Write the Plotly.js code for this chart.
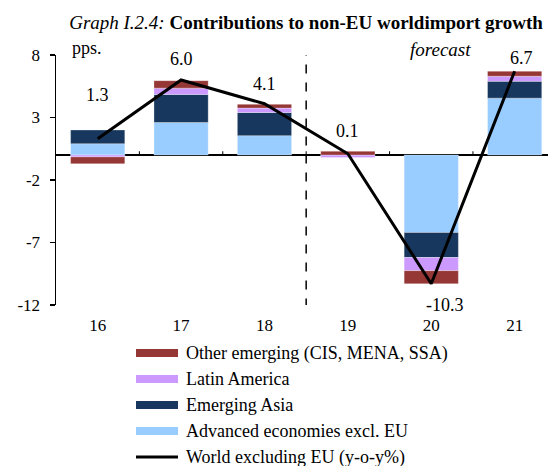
<!DOCTYPE html>
<html>
<head>
<meta charset="utf-8">
<script src="https://cdn.plot.ly/plotly-3.0.1.min.js"></script>
<style>html,body{margin:0;padding:0;background:#fff;}#chart{width:548px;height:466px;}</style>
</head>
<body>
<div id="chart"></div>
<script>
const years = ['16', '17', '18', '19', '20', '21'];
const advanced = [0.9, 2.6, 1.55, 0.0, -6.2, 4.55];
const emergingAsia = [1.1, 2.25, 1.85, 0.0, -2.0, 1.35];
const latinAmerica = [-0.15, 0.5, 0.35, -0.2, -1.05, 0.4];
const otherEmerging = [-0.55, 0.6, 0.3, 0.3, -1.05, 0.4];
const world = [1.3, 6.0, 4.1, 0.1, -10.3, 6.7];
const worldLabels = ['1.3', '6.0', '4.1', '0.1', '-10.3', '6.7'];
const yTicks = [8, 3, -2, -7, -12];

const names = ['Other emerging (CIS, MENA, SSA)', 'Latin America', 'Emerging Asia', 'Advanced economies excl. EU', 'World excluding EU (y-o-y%)'];
const colors = ['#953735', '#CC99FF', '#17375E', '#99CCFF', '#000000'];

const FONT = 'Liberation Serif, Times New Roman, serif';

// plot-area geometry in pixels (for placing the hand-made legend)
const PL = 56, PR = 548, PT = 55, PB = 305;
const px2x = p => (p - PL) / (PR - PL);
const px2y = p => (PB - p) / (PB - PT);

function bar(vals, idx) {
  return {
    type: 'bar', x: years, y: vals, name: names[idx], showlegend: false,
    marker: {color: colors[idx], line: {color: 'rgba(255,255,255,0.6)', width: 0.5}},
    width: 0.65, hoverinfo: 'skip'
  };
}

const traces = [
  bar(advanced, 3), bar(emergingAsia, 2), bar(latinAmerica, 1), bar(otherEmerging, 0),
  {type: 'scatter', mode: 'lines', x: years, y: world, name: names[4], showlegend: false,
   line: {color: '#000', width: 3}, hoverinfo: 'skip'}
];

// label offsets (style only)
const lblShift = [[0, 44], [0, 21], [0, 20], [0, 23], [14, -21], [7, 13]];
const annotations = years.map((c, i) => ({
  x: i, y: world[i], xref: 'x', yref: 'y', text: worldLabels[i], showarrow: false,
  xshift: lblShift[i][0], yshift: lblShift[i][1], yanchor: 'middle', xanchor: 'center',
  font: {family: FONT, size: 18, color: '#000'}
}));
annotations.push({xref: 'paper', yref: 'paper', x: px2x(70), y: px2y(48), xanchor: 'left', yanchor: 'middle',
  text: 'pps.', showarrow: false, font: {family: FONT, size: 18, color: '#000'}});
annotations.push({xref: 'paper', yref: 'paper', x: px2x(440), y: px2y(50), xanchor: 'center', yanchor: 'middle',
  text: '<i>forecast</i>', showarrow: false, font: {family: FONT, size: 19, color: '#000'}});

const shapes = [];
for (let i = 0; i < years.length - 1; i++) {
  shapes.push({type: 'line', xref: 'x', yref: 'y', x0: i + 0.5, x1: i + 0.5, y0: 0, y1: 0.3,
    line: {color: '#000', width: 1}});
}
shapes.push({type: 'line', xref: 'x', yref: 'y', x0: 2.5, x1: 2.5, y0: -12.2, y1: 8,
  line: {color: '#000', width: 1.5, dash: 'dash'}});

// legend (drawn as swatches + text)
const legRows = [353, 379, 405, 431, 457];
names.forEach((n, i) => {
  const yc = legRows[i];
  if (i < 4) {
    shapes.push({type: 'rect', xref: 'paper', yref: 'paper', x0: px2x(136), x1: px2x(178),
      y0: px2y(yc + 4), y1: px2y(yc - 4), line: {width: 0}, fillcolor: colors[i]});
  } else {
    shapes.push({type: 'line', xref: 'paper', yref: 'paper', x0: px2x(136), x1: px2x(178),
      y0: px2y(yc), y1: px2y(yc), line: {color: colors[i], width: 3}});
  }
  annotations.push({xref: 'paper', yref: 'paper', x: px2x(184), y: px2y(yc), xanchor: 'left', yanchor: 'middle',
    text: n, showarrow: false, font: {family: FONT, size: 18, color: '#000'}});
});

const layout = {
  width: 548, height: 466,
  margin: {l: PL, r: 548 - PR, t: PT, b: 466 - PB},
  paper_bgcolor: '#fff', plot_bgcolor: '#fff',
  barmode: 'relative',
  showlegend: false,
  font: {family: FONT, size: 17, color: '#000'},
  title: {
    text: '<i>Graph I.2.4:</i> <b>Contributions to non-EU worldimport growth</b>',
    font: {family: FONT, size: 19, color: '#000'},
    x: 306 / 548, xref: 'container', xanchor: 'center', y: 1 - 22 / 466, yref: 'container', yanchor: 'middle'
  },
  xaxis: {
    type: 'category', range: [-0.5, 5.4], showline: false, showgrid: false, zeroline: false,
    ticks: '', tickfont: {family: FONT, size: 17}, ticklabelstandoff: 8
  },
  yaxis: {
    range: [-12, 8], tickvals: yTicks, ticktext: yTicks.map(String),
    showline: true, linecolor: '#000', linewidth: 1.5, ticks: 'outside', ticklen: 5, tickwidth: 1.5,
    tickcolor: '#000', showgrid: false, zeroline: true, zerolinecolor: '#000', zerolinewidth: 1.5,
    tickfont: {family: FONT, size: 17}, ticklabelstandoff: 6
  },
  annotations: annotations,
  shapes: shapes
};

Plotly.newPlot('chart', traces, layout, {staticPlot: true, displayModeBar: false});
</script>
</body>
</html>
